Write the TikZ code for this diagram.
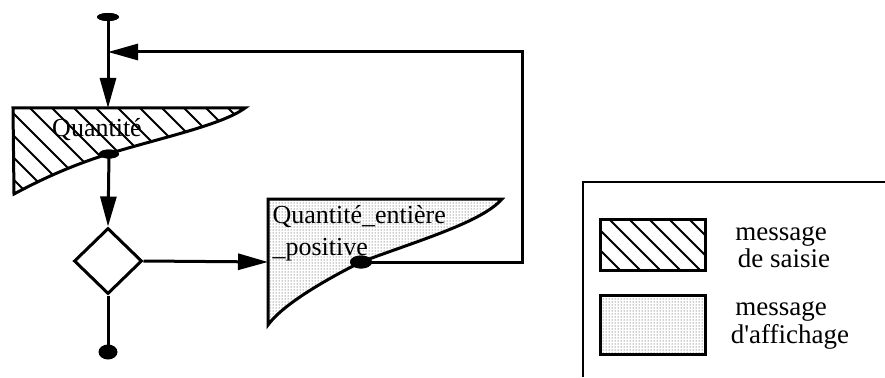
\documentclass[tikz,border=0pt]{standalone}
\usepackage{fontspec}
\setmainfont{Liberation Serif}
\usetikzlibrary{arrows.meta,shapes.geometric,patterns}
\begin{document}
\begin{tikzpicture}[x=1pt,y=-1pt,line width=3pt,line join=miter,
  flow/.style={-{Triangle[length=30pt,width=16pt]}},
  dot/.style={ellipse,fill=black,draw=none,inner sep=0pt},
  txt/.style={font=\fontsize{26}{32}\selectfont,inner sep=0pt},
  legtxt/.style={font=\fontsize{27}{28}\selectfont,inner sep=0pt,anchor=base},
  hatch/.style={line width=2pt},
  stipple/.style={pattern=dots,pattern color=black!85}]
\useasboundingbox (0,0) rectangle (885,377);

% ---- input message "Quantité"
\def\qpath{(13,108) -- (245,108) .. controls (222,125) and (160,138) .. (108,154) .. controls (70,166) and (40,180) .. (14,194) -- cycle}
\begin{scope}
  \clip \qpath;
  \foreach \i in {-220,-198,...,260} \draw[hatch] (\i,100) -- ++(110,110);
\end{scope}
\draw \qpath;
\coordinate (qtop) at (108,108);
\node[txt,anchor=base] (qtext) at (97,136) {Quantité};

% ---- output message
\def\mpath{(268,199) -- (502,199) .. controls (482,222) and (420,240) .. (361,262) .. controls (315,285) and (280,308) .. (268,325) -- cycle}
\fill[stipple] \mpath;
\draw \mpath;
\coordinate (mleft) at (268,262);
\node[txt,anchor=base west] (mtext1) at (271,223) {Quantité\_entière};
\node[txt,anchor=base west] (mtext2) at (271,255) {\_positive};

% ---- flow
\node[dot,minimum width=22pt,minimum height=8pt] (start) at (108,17) {};
\coordinate (join) at (108,52);
\node[dot,minimum width=20pt,minimum height=9pt] (d1) at (109,154) {};
\node[diamond,draw,fill=white,minimum width=68pt,minimum height=66pt,inner sep=0pt] (test) at (108,261) {};
\node[dot,minimum width=19pt,minimum height=15pt] (stop) at (108,352) {};
\node[dot,minimum width=22pt,minimum height=13pt] (d2) at (361,262) {};
\coordinate (back) at (522,262);

\draw[flow] (start.center) -- (qtop);
\draw[flow] (d1.center) -- (test.north);
\draw (test.south) -- (stop.center);
\draw[flow] (test.east) -- (mleft);
\draw[flow] (d2.center) -- (back) |- (join);
\node[dot,minimum width=22pt,minimum height=8pt] at (start) {};
\node[dot,minimum width=20pt,minimum height=9pt] at (d1) {};
\node[dot,minimum width=22pt,minimum height=13pt] at (d2) {};

% ---- legend
\draw[line width=2.5pt] (583,377) -- (583,182) -- (885,182);
\begin{scope}
  \clip (600,219) rectangle (705,270);
  \foreach \i in {520,540,...,720} \draw[hatch] (\i,210) -- ++(70,70);
\end{scope}
\draw (600,219) rectangle (705,270);
\fill[stipple] (600,295) rectangle (705,354);
\draw (600,295) rectangle (705,354);
\node[legtxt] (l1a) at (781,240) {message};
\node[legtxt] (l1b) at (784,267) {de saisie};
\node[legtxt] (l2a) at (781,315) {message};
\node[legtxt] (l2b) at (790,343) {d\textquotesingle affichage};
\end{tikzpicture}
\end{document}
